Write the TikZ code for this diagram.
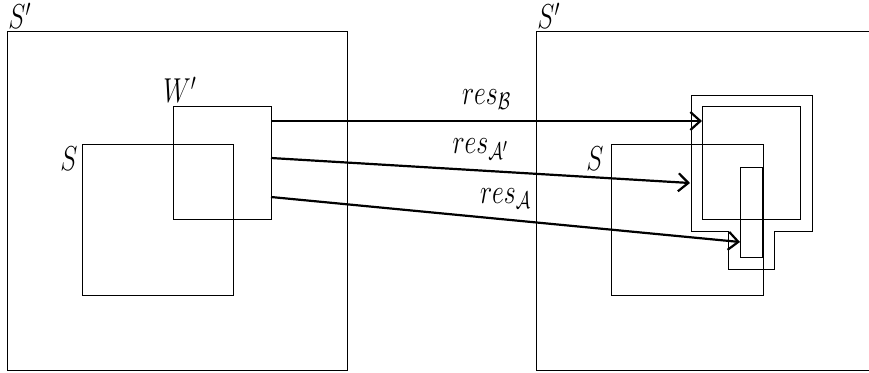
\documentclass[tikz,border=0pt]{standalone}
\usetikzlibrary{arrows.meta}
% narrow, tall lettering used for all labels
\newcommand\narrowlbl[1]{\scalebox{0.75}[1.0]{#1}}
\tikzset{
  region/.style={draw, line width=0.5pt},
  mapto/.style={-{Straight Barb[length=5pt,width=9pt]}, line width=1.1pt},
  lbl/.style={font=\LARGE, inner sep=0pt},
}
\begin{document}
\begin{tikzpicture}[x=0.5pt,y=-0.5pt]
\useasboundingbox (0,0) rectangle (869,372);

% left side: S' containing S and W'
\draw[region] (7,31) rectangle (347,370);
\node[lbl, anchor=south west] (lsp) at (8,29) {\narrowlbl{$S'$}};
\draw[region] (82,144) rectangle (233,295);
\node[lbl, anchor=north east] (ls) at (78,146) {\narrowlbl{$S$}};
\draw[region] (173,106) rectangle (271,219);
\node[lbl, anchor=south] (lw) at (180,103) {\narrowlbl{$W'$}};
\coordinate (w1) at (271,121);
\coordinate (w2) at (271,158);
\coordinate (w3) at (271,197);

% right side: S' containing S and the covers
\draw[region] (536,31) rectangle (876,370);
\node[lbl, anchor=south west] (rsp) at (537,29) {\narrowlbl{$S'$}};
\draw[region] (611,144) rectangle (763,295);
\node[lbl, anchor=north east] (rs) at (604,146) {\narrowlbl{$S$}};
% outer cover B
\draw[region] (691,95) -- (812,95) -- (812,231) -- (774,231) -- (774,269)
  -- (728,269) -- (728,231) -- (691,231) -- cycle;
% A'
\draw[region] (702,106) rectangle (800,219);
% A
\draw[region] (740,167) rectangle (762,257);
\coordinate (tB) at (702,121);
\coordinate (tAp) at (690,183);
\coordinate (tA) at (740,242);

% restriction maps
\draw[mapto] (w1) -- node[lbl, above=5pt] (lB) {\narrowlbl{$res_{\mathcal{B}}$}} (tB);
\draw[mapto] (w2) -- node[lbl, above=5pt] (lAp) {\narrowlbl{$res_{\mathcal{A}'}$}} (tAp);
\draw[mapto] (w3) -- node[lbl, above=5pt] (lA) {\narrowlbl{$res_{\mathcal{A}}$}} (tA);
\end{tikzpicture}
\end{document}
